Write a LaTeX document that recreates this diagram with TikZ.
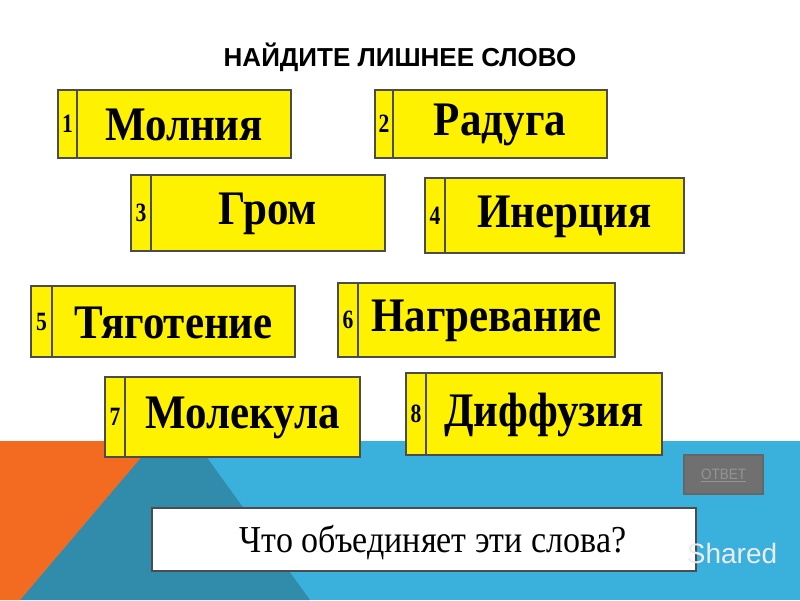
\documentclass[tikz,border=0pt]{standalone}
\usepackage{fontspec}
\setmainfont{Liberation Serif}
\newfontfamily\sansf{Liberation Sans}
\definecolor{lblue}{RGB}{58,176,220}
\definecolor{dteal}{RGB}{48,140,170}
\definecolor{orng}{RGB}{242,107,33}
\definecolor{btngray}{RGB}{112,112,112}
\begin{document}
\begin{tikzpicture}[x=1pt,y=-1pt,
  wbox/.style={draw=black!70,line width=1.5pt,fill=yellow},
  wtext/.style={font=\fontsize{43}{44}\selectfont\bfseries,anchor=center,yscale=1.12},
  ntext/.style={font=\fontsize{24}{24}\selectfont\bfseries,anchor=center,xscale=0.9,yscale=1.1}]
\useasboundingbox (0,0) rectangle (800,600);
\fill[white] (0,0) rectangle (800,600);
\fill[lblue] (0,441) rectangle (800,600);
\fill[dteal] (155,441) -- (195,441) -- (310,600) -- (20,600) -- cycle;
\fill[orng] (0,441) -- (155,441) -- (20,600) -- (0,600) -- cycle;
\node[font=\sansf\fontsize{26}{26}\selectfont\bfseries] (title) at (400,57) {НАЙДИТЕ ЛИШНЕЕ СЛОВО};
\foreach \i/\xa/\ya/\xb/\yb/\d/\w in {
 1/58/90/291/158/77/Молния,
 2/375/90/607/158/393/Радуга,
 3/131/175/385/251/151/Гром,
 4/425/178/684/253/445/Инерция,
 5/31/286/295/357/52/Тяготение,
 6/338/283/615/357/358/Нагревание,
 7/105/377/360/457/125/Молекула,
 8/406/373/662/455/426/Диффузия}{
 \draw[wbox] (\xa,\ya) rectangle (\xb,\yb);
 \draw[black!70,line width=1.5pt] (\d,\ya) -- (\d,\yb);
 \node[ntext] (n\i) at ({(\xa+\d)/2},{(\ya+\yb)/2}) {\i};
 \node[wtext] (w\i) at ({(\d+\xb)/2},{(\ya+\yb)/2+1}) {\w};
}
\draw[black!60,line width=2pt,fill=btngray] (684,455) rectangle (763,494);
\node[font=\sansf\fontsize{15}{15}\selectfont,text=black!42,xscale=0.9] (ans) at (723.5,475) {\underline{ОТВЕТ}};
\draw[black!70,line width=1.5pt,fill=white] (152,508) rectangle (696,571);
\node[font=\fontsize{34}{34}\selectfont,yscale=1.12] (q) at (433,543) {Что объединяет эти слова?};
\node[font=\sansf\fontsize{28}{28}\selectfont,text=white!85!gray] (wm) at (732,553) {Shared};
\end{tikzpicture}
\end{document}
